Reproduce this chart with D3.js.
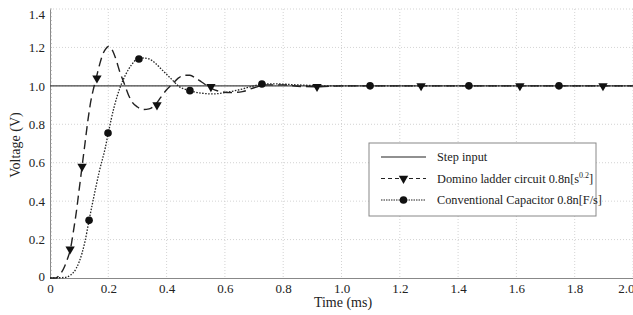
<!DOCTYPE html>
<html>
<head>
<meta charset="utf-8">
<script src="https://cdn.jsdelivr.net/npm/d3@7"></script>
<style>
  body { margin: 0; background: #fff; }
  svg text { font-family: 'Liberation Serif', 'Times New Roman', Times, serif; }
</style>
</head>
<body>
<svg width="633" height="315"></svg>
<script>
var width = 633;
var height = 315;

var xTicks = [0, 0.2, 0.4, 0.6, 0.8, 1.0, 1.2, 1.4, 1.6, 1.8, 2.0];
var yTicks = [0, 0.2, 0.4, 0.6, 0.8, 1.0, 1.2, 1.4];

// step input
var stepTime = [0, 2.0];
var stepVolt = [1.0, 1.0];

// domino ladder circuit (dashed)
var dominoTime = [0, 0.02, 0.03, 0.04, 0.05, 0.06, 0.07, 0.08, 0.09, 0.10, 0.11, 0.12, 0.13, 0.14, 0.15,
  0.16, 0.17, 0.18, 0.19, 0.20, 0.21, 0.22, 0.23, 0.24, 0.25, 0.26, 0.27, 0.28, 0.30, 0.32, 0.34,
  0.36, 0.38, 0.40, 0.42, 0.44, 0.46, 0.48, 0.50, 0.52, 0.55, 0.58, 0.62, 0.66, 0.70, 0.74, 0.80,
  0.86, 0.92, 1.0, 2.0];
var dominoVolt = [0, 0, 0.01, 0.03, 0.06, 0.1, 0.15, 0.24, 0.34, 0.46, 0.58, 0.70, 0.82, 0.92, 0.99,
  1.05, 1.11, 1.16, 1.19, 1.205, 1.195, 1.165, 1.12, 1.07, 1.03, 0.99, 0.95, 0.92, 0.89, 0.877, 0.88,
  0.9, 0.94, 0.98, 1.01, 1.04, 1.055, 1.055, 1.04, 1.02, 0.99, 0.972, 0.965, 0.97, 0.99, 1.005, 1.005,
  0.997, 0.995, 1.0, 1.0];
var dominoMarkT = [0.069, 0.11, 0.161, 0.367, 0.552, 0.916, 1.273, 1.612, 1.897];
var dominoMarkV = [0.15, 0.58, 1.04, 0.9, 0.995, 0.996, 1.0, 1.0, 1.0];

// conventional capacitor (dotted)
var convTime = [0, 0.05, 0.07, 0.09, 0.11, 0.12, 0.134, 0.15, 0.17, 0.19, 0.2, 0.22, 0.24, 0.26, 0.28,
  0.30, 0.32, 0.34, 0.36, 0.38, 0.40, 0.42, 0.44, 0.48, 0.52, 0.56, 0.60, 0.65, 0.70, 0.73, 0.78,
  0.85, 0.95, 2.0];
var convVolt = [0, 0.003, 0.015, 0.05, 0.13, 0.19, 0.30, 0.42, 0.56, 0.68, 0.755, 0.89, 0.99, 1.06, 1.11,
  1.14, 1.145, 1.14, 1.12, 1.09, 1.06, 1.03, 1.0, 0.975, 0.962, 0.958, 0.965, 0.98, 1.0, 1.01, 1.01,
  1.005, 1.0, 1.0];
var convMarkT = [0.134, 0.199, 0.305, 0.48, 0.727, 1.098, 1.437, 1.746];
var convMarkV = [0.30, 0.755, 1.14, 0.975, 1.01, 1.0, 1.0, 1.0];

var xScale = d3.scaleLinear().domain([0, 2.0]).range([50, 633]);
var yScale = d3.scaleLinear().domain([0, 1.4]).range([278, 9]);

var svg = d3.select("svg");

// grid
svg.append("g")
  .selectAll("line")
  .data(xTicks.slice(1))
  .enter()
  .append("line")
    .attr("x1", d => xScale(d)).attr("x2", d => xScale(d))
    .attr("y1", yScale(1.4)).attr("y2", yScale(0))
    .attr("stroke", "#c8c8c8").attr("stroke-width", 0.8)
    .attr("stroke-dasharray", "1,2");

svg.append("g")
  .selectAll("line")
  .data(yTicks.slice(1))
  .enter()
  .append("line")
    .attr("x1", xScale(0)).attr("x2", xScale(2.0))
    .attr("y1", d => yScale(d)).attr("y2", d => yScale(d))
    .attr("stroke", "#c8c8c8").attr("stroke-width", 0.8)
    .attr("stroke-dasharray", "1,2");

// axes
var fmt = d => d === 0 ? "0" : d3.format(".1f")(d);
var xAxis = d3.axisBottom(xScale).tickValues(xTicks).tickSize(0).tickPadding(6).tickFormat(fmt);
var yAxis = d3.axisLeft(yScale).tickValues(yTicks).tickSize(0).tickPadding(5).tickFormat(fmt);

var gx = svg.append("g").attr("transform", `translate(0, ${yScale(0)})`).call(xAxis);
var gy = svg.append("g").attr("transform", `translate(${xScale(0)}, 0)`).call(yAxis);

[gx, gy].forEach(function (g) {
  g.attr("font-family", null).attr("font-size", null);
  g.select(".domain").attr("stroke", "#888").attr("stroke-width", 1);
  g.selectAll("text")
    .attr("fill", "#222")
    .style("font-size", "13px");
});
gx.selectAll("text").filter(d => d === 2.0).attr("text-anchor", "end").attr("dx", "1");
gy.selectAll("text").filter(d => d === 1.4).attr("dy", "0.7em");
gy.selectAll("text").filter(d => d === 0).attr("dy", "0.2em");

// minor ticks on left axis
svg.append("g")
  .selectAll("line")
  .data(d3.range(0, 71).map(i => i * 0.02))
  .enter()
  .append("line")
    .attr("x1", xScale(0)).attr("x2", xScale(0) + 2)
    .attr("y1", d => yScale(d)).attr("y2", d => yScale(d))
    .attr("stroke", "#999").attr("stroke-width", 0.6);

// axis labels
svg.append("text")
  .attr("x", 343).attr("y", 307)
  .attr("text-anchor", "middle")
  .style("font-size", "14px")
  .attr("fill", "#222")
  .text("Time (ms)");

svg.append("text")
  .attr("transform", "rotate(-90)")
  .attr("x", -145).attr("y", 20)
  .attr("text-anchor", "middle")
  .style("font-size", "14px")
  .attr("fill", "#222")
  .text("Voltage (V)");

var line = d3.line()
  .x(d => xScale(d[0]))
  .y(d => yScale(d[1]))
  .curve(d3.curveMonotoneX);

// series
svg.append("path")
  .datum(d3.zip(stepTime, stepVolt))
  .attr("d", line)
  .attr("fill", "none").attr("stroke", "#444").attr("stroke-width", 1.2);

svg.append("path")
  .datum(d3.zip(dominoTime, dominoVolt))
  .attr("d", line)
  .attr("fill", "none").attr("stroke", "#222").attr("stroke-width", 1.4)
  .attr("stroke-dasharray", "9,5");

svg.append("path")
  .datum(d3.zip(convTime, convVolt))
  .attr("d", line)
  .attr("fill", "none").attr("stroke", "#222").attr("stroke-width", 1.3)
  .attr("stroke-dasharray", "1.5,1.5");

var tri = d3.symbol().type(d3.symbolTriangle).size(38);

svg.append("g")
  .selectAll("path")
  .data(d3.zip(dominoMarkT, dominoMarkV))
  .enter()
  .append("path")
    .attr("d", tri)
    .attr("transform", d => `translate(${xScale(d[0])}, ${yScale(d[1])}) rotate(180)`)
    .attr("fill", "#111");

svg.append("g")
  .selectAll("circle")
  .data(d3.zip(convMarkT, convMarkV))
  .enter()
  .append("circle")
    .attr("cx", d => xScale(d[0]))
    .attr("cy", d => yScale(d[1]))
    .attr("r", 3.8)
    .attr("fill", "#111");

// legend
var legend = svg.append("g");
legend.append("rect")
  .attr("x", 369).attr("y", 143).attr("width", 227).attr("height", 73)
  .attr("fill", "#fff").attr("stroke", "#888").attr("stroke-width", 1);

var items = [
  { dash: null, width: 1.2, mark: null },
  { dash: "4,3", width: 1, mark: "tri" },
  { dash: "1.5,1", width: 1, mark: "dot" }
];
var rowY = [157, 178.5, 200];

items.forEach(function (it, i) {
  var y = rowY[i];
  legend.append("line")
    .attr("x1", 381).attr("x2", 426).attr("y1", y).attr("y2", y)
    .attr("stroke", "#222").attr("stroke-width", it.width)
    .attr("stroke-dasharray", it.dash);
  if (it.mark === "tri") {
    legend.append("path").attr("d", tri)
      .attr("transform", `translate(403.5, ${y}) rotate(180)`).attr("fill", "#111");
  } else if (it.mark === "dot") {
    legend.append("circle").attr("cx", 403.5).attr("cy", y).attr("r", 3.8).attr("fill", "#111");
  }
});

var lt = legend.append("g").style("font-size", "12.3px").attr("fill", "#222");
lt.append("text").attr("x", 437).attr("y", rowY[0] + 4).text("Step input");
var t2 = lt.append("text").attr("x", 437).attr("y", rowY[1] + 4);
t2.append("tspan").text("Domino ladder circuit 0.8n[s");
t2.append("tspan").attr("dy", -5).style("font-size", "8px").text("0.2");
t2.append("tspan").attr("dy", 5).text("]");
lt.append("text").attr("x", 437).attr("y", rowY[2] + 4).text("Conventional Capacitor 0.8n[F/s]");
</script>
</body>
</html>
